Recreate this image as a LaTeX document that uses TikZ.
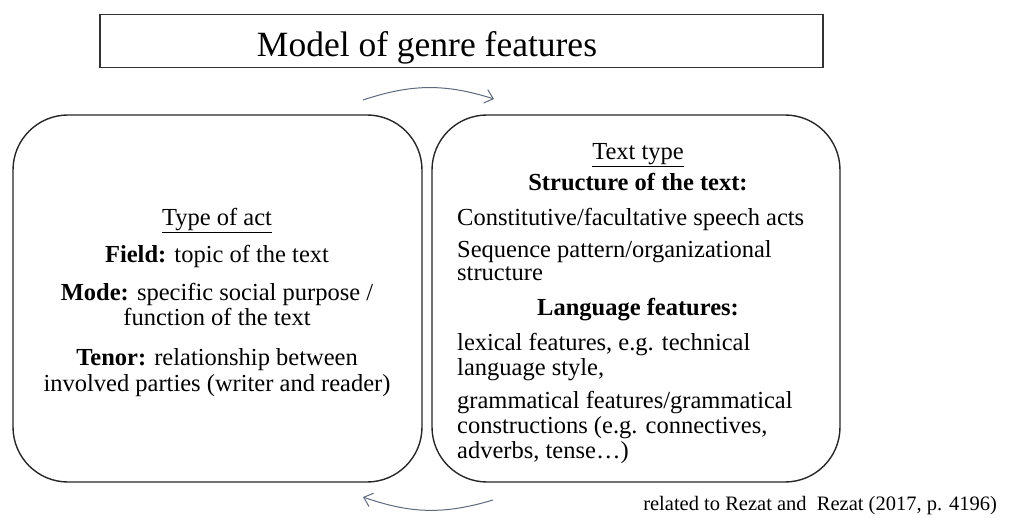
\documentclass[tikz,border=0pt]{standalone}
\usepackage{fontspec}
\setmainfont{Liberation Serif}
\usetikzlibrary{arrows.meta}

\definecolor{arrowgray}{RGB}{95,105,125}

\tikzset{
  panel/.style={draw=black!85,line width=1.4pt,rounded corners=55pt,inner sep=0pt},
  body/.style={font=\fontsize{24.5}{29}\selectfont,inner sep=0pt},
  cycle/.style={draw=arrowgray,line width=1pt,-{Straight Barb[length=8pt,width=14pt]}}
}

\begin{document}
\begin{tikzpicture}[x=1pt,y=-1pt]
   \useasboundingbox (0,0) rectangle (1011,518);
   % title
   \node[draw=black!80,line width=1.6pt,minimum width=723pt,minimum height=53pt] (titlebox) at (461.5,41) {};
   \node[font=\fontsize{35.5}{42}\selectfont,anchor=base] (title) at (427,57) {Model of genre features};

   % the two panels
   \node[panel,minimum width=409pt,minimum height=367pt] (act) at (217.5,298.5) {};
   \node[panel,minimum width=408pt,minimum height=367pt] (type) at (636,298.5) {};

   % type of act
   \node[body,anchor=base] (acthead) at (217,226) {\underline{Type of act}};
   \node[body,anchor=base] (field) at (217,263) {\textbf{Field:} topic of the text};
   \node[body,anchor=base] (mode) at (217,301) {\textbf{Mode:} specific social purpose /};
   \node[body,anchor=base] (mode2) at (217,326) {function of the text};
   \node[body,anchor=base] (tenor) at (217,365) {\textbf{Tenor:} relationship between};
   \node[body,anchor=base] (tenor2) at (217,391) {involved parties (writer and reader)};

   % text type
   \node[body,anchor=base] (typehead) at (638,160) {\underline{Text type}};
   \node[body,anchor=base] (struct) at (638,191) {\textbf{Structure of the text:}};
   \node[body,anchor=base west] (s1) at (457,226) {Constitutive/facultative speech acts};
   \node[body,anchor=base west] (s2) at (457,258) {Sequence pattern/organizational};
   \node[body,anchor=base west] (s3) at (457,281) {structure};
   \node[body,anchor=base] (lang) at (638,316) {\textbf{Language features:}};
   \node[body,anchor=base west] (l1) at (457,350) {lexical features, e.g. technical};
   \node[body,anchor=base west] (l2) at (457,375) {language style,};
   \node[body,anchor=base west] (l3) at (457,408) {grammatical features/grammatical};
   \node[body,anchor=base west] (l4) at (457,433) {constructions (e.g. connectives,};
   \node[body,anchor=base west] (l5) at (457,458) {adverbs, tense\dots)};

   % source
   \node[font=\fontsize{20.5}{24}\selectfont,anchor=base east,inner sep=0pt] (src) at (997,510) {related to Rezat and\ \ Rezat (2017, p. 4196)};

   % arrows between the panels
   \coordinate (t1) at (363,100);
   \coordinate (t2) at (494,99);
   \coordinate (b1) at (493,500);
   \coordinate (b2) at (363,497);
   \draw[cycle] (t1) to[bend left=18] (t2);
   \draw[cycle] (b1) to[bend left=18] (b2);
\end{tikzpicture}
\end{document}
